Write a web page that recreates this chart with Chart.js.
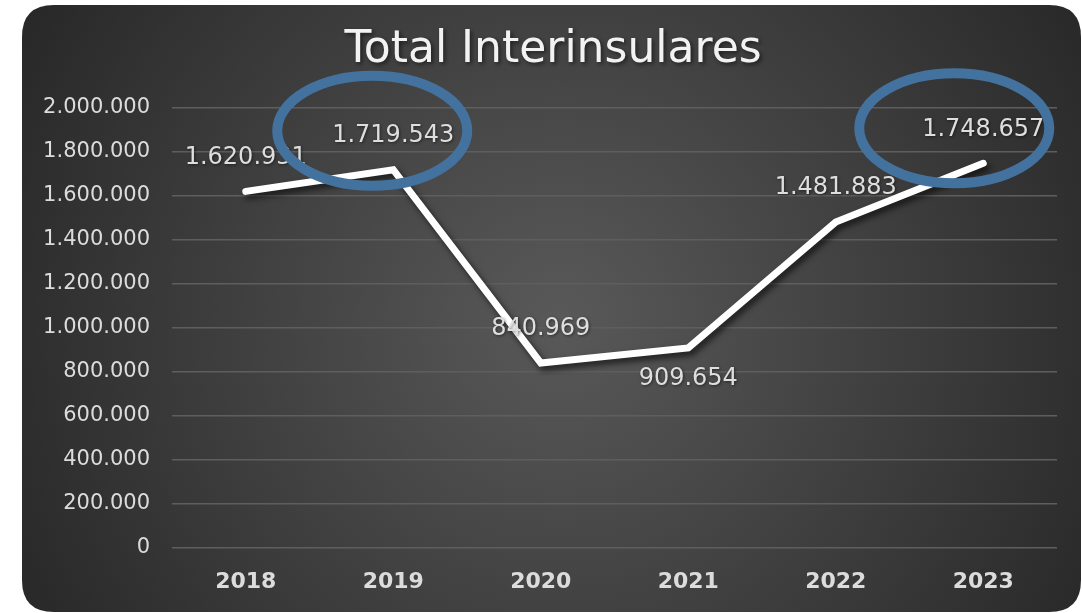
<!DOCTYPE html>
<html>
<head>
<meta charset="utf-8">
<script src="https://cdn.jsdelivr.net/npm/chart.js@4"></script>
<style>
html,body{margin:0;padding:0;background:#ffffff;}
#wrap{width:1082px;height:613px;position:relative;}
canvas{display:block;}
</style>
</head>
<body>
<div id="wrap"><canvas id="c" width="1082" height="613"></canvas></div>
<script>
// ---- data ----
const chartTitle = 'Total Interinsulares';
const years = ['2018', '2019', '2020', '2021', '2022', '2023'];
const totals = [1620931, 1719543, 840969, 909654, 1481883, 1748657];
const yTickValues = [0, 200000, 400000, 600000, 800000, 1000000, 1200000, 1400000, 1600000, 1800000, 2000000];
const highlightedYears = ['2019', '2023'];
const labelsBelow = ['2021'];

function fmt(n) {
  return String(Math.round(n)).replace(/\B(?=(\d{3})+(?!\d))/g, '.');
}

// ---- plugins ----
const cardBackground = {
  id: 'cardBackground',
  beforeDraw(chart) {
    const ctx = chart.ctx;
    const x = 22, y = 5, w = chart.width - 23, h = chart.height - 6, r = 32;
    ctx.save();
    const g = ctx.createRadialGradient(560, 320, 0, 560, 320, 640);
    g.addColorStop(0, '#595959');
    g.addColorStop(1, '#262626');
    ctx.beginPath();
    ctx.moveTo(x + r, y);
    ctx.lineTo(x + w - r, y);
    ctx.quadraticCurveTo(x + w, y, x + w, y + r);
    ctx.lineTo(x + w, y + h - r);
    ctx.quadraticCurveTo(x + w, y + h, x + w - r, y + h);
    ctx.lineTo(x + r, y + h);
    ctx.quadraticCurveTo(x, y + h, x, y + h - r);
    ctx.lineTo(x, y + r);
    ctx.quadraticCurveTo(x, y, x + r, y);
    ctx.closePath();
    ctx.fillStyle = g;
    ctx.fill();
    // title
    ctx.font = '44px "DejaVu Sans"';
    ctx.fillStyle = '#f2f2f2';
    ctx.textAlign = 'center';
    ctx.textBaseline = 'middle';
    ctx.shadowColor = 'rgba(0,0,0,0.55)';
    ctx.shadowBlur = 4;
    ctx.shadowOffsetX = 2;
    ctx.shadowOffsetY = 2;
    ctx.fillText(chartTitle, 553, 51);
    ctx.restore();
  }
};

const lineShadow = {
  id: 'lineShadow',
  beforeDatasetsDraw(chart) {
    const ctx = chart.ctx;
    ctx.save();
    ctx.shadowColor = 'rgba(0,0,0,0.65)';
    ctx.shadowBlur = 6;
    ctx.shadowOffsetX = 3;
    ctx.shadowOffsetY = 4;
  },
  afterDatasetsDraw(chart) {
    chart.ctx.restore();
  }
};

const valueLabels = {
  id: 'valueLabels',
  afterDatasetsDraw(chart) {
    const ctx = chart.ctx;
    const meta = chart.getDatasetMeta(0);
    ctx.save();
    ctx.font = '24px "DejaVu Sans"';
    ctx.fillStyle = '#dedede';
    ctx.textAlign = 'center';
    ctx.textBaseline = 'middle';
    ctx.shadowColor = 'rgba(0,0,0,0.5)';
    ctx.shadowBlur = 3;
    ctx.shadowOffsetX = 1;
    ctx.shadowOffsetY = 1;
    meta.data.forEach((pt, i) => {
      const below = labelsBelow.includes(years[i]);
      ctx.fillText(fmt(totals[i]), pt.x, pt.y + (below ? 31 : -34));
    });
    ctx.restore();
  }
};

const highlightRings = {
  id: 'highlightRings',
  afterDraw(chart) {
    const ctx = chart.ctx;
    const xs = chart.scales.x, ys = chart.scales.y;
    const offsets = { '2019': [-21, -39], '2023': [-29, -35] };
    ctx.save();
    ctx.strokeStyle = '#44729f';
    ctx.lineWidth = 10;
    highlightedYears.forEach(yr => {
      const i = years.indexOf(yr);
      const px = xs.getPixelForValue(i);
      const py = ys.getPixelForValue(totals[i]);
      const o = offsets[yr] || [0, -36];
      ctx.beginPath();
      ctx.ellipse(px + o[0], py + o[1], 95, 55, 0, 0, Math.PI * 2);
      ctx.stroke();
    });
    ctx.restore();
  }
};

new Chart(document.getElementById('c'), {
  type: 'line',
  data: {
    labels: years,
    datasets: [{
      data: totals,
      borderColor: '#ffffff',
      borderWidth: 7,
      pointRadius: 0,
      pointHoverRadius: 0,
      tension: 0,
      borderCapStyle: 'round',
      borderJoinStyle: 'miter',
      fill: false
    }]
  },
  options: {
    responsive: false,
    animation: false,
    devicePixelRatio: 1,
    layout: { padding: { top: 108, right: 25, bottom: 0, left: 0 } },
    plugins: {
      legend: { display: false },
      tooltip: { enabled: false },
      title: { display: false }
    },
    scales: {
      x: {
        type: 'category',
        offset: true,
        grid: { display: false, drawTicks: false },
        border: { display: false },
        ticks: {
          color: '#dcdcdc',
          font: { family: 'DejaVu Sans', size: 22, weight: 'bold' },
          padding: 21
        },
        afterFit(scale) { scale.height = 65; }
      },
      y: {
        min: 0,
        max: 2000000,
        afterBuildTicks(scale) { scale.ticks = yTickValues.map(v => ({ value: v })); },
        grid: { color: '#5e5e5e', lineWidth: 1.5, drawTicks: false },
        border: { display: false },
        ticks: {
          color: '#dcdcdc',
          font: { family: 'DejaVu Sans', size: 21 },
          padding: 22,
          callback: v => fmt(v)
        },
        afterFit(scale) { scale.width = 172; }
      }
    }
  },
  plugins: [cardBackground, lineShadow, valueLabels, highlightRings]
});
</script>
</body>
</html>
